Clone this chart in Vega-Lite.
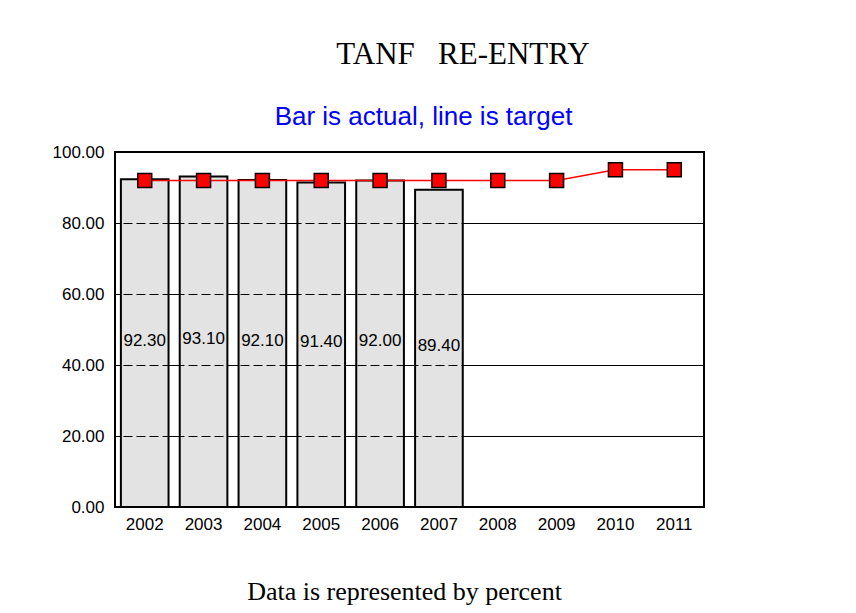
{
  "$schema": "https://vega.github.io/schema/vega-lite/v6.json",
  "width": 589,
  "height": 355,
  "autosize": {"type": "none"},
  "padding": {"left": 115, "top": 152, "right": 152, "bottom": 106},
  "background": "white",
  "config": {
    "view": {"stroke": "#000", "strokeWidth": 2},
    "axis": {"labelFont": "Liberation Sans", "labelFontSize": 17, "labelColor": "#000", "ticks": false, "domain": false}
  },
  "title": {
    "text": "TANF\u00a0\u00a0 RE-ENTRY",
    "font": "Liberation Serif",
    "fontSize": 31,
    "fontWeight": "normal",
    "color": "#000",
    "anchor": "middle",
    "frame": "group",
    "dx": 53.5,
    "baseline": "alphabetic",
    "offset": 8
  },
  "data": {
    "values": [
      {"year": "2002", "actual": 92.3, "target": 92},
      {"year": "2003", "actual": 93.1, "target": 92},
      {"year": "2004", "actual": 92.1, "target": 92},
      {"year": "2005", "actual": 91.4, "target": 92},
      {"year": "2006", "actual": 92.0, "target": 92},
      {"year": "2007", "actual": 89.4, "target": 92},
      {"year": "2008", "actual": null, "target": 92},
      {"year": "2009", "actual": null, "target": 92},
      {"year": "2010", "actual": null, "target": 95},
      {"year": "2011", "actual": null, "target": 95}
    ]
  },
  "resolve": {"scale": {"y": "independent"}, "axis": {"x": "independent", "y": "independent"}},
  "layer": [
    {
      "mark": {"type": "bar", "fill": "#e3e3e3", "stroke": "#000", "strokeWidth": 2},
      "encoding": {
        "x": {
          "field": "year", "type": "ordinal",
          "scale": {"paddingInner": 0.19, "paddingOuter": 0.1},
          "axis": {
            "orient": "bottom", "labelAngle": 0, "labelPadding": 9, "grid": false,
            "title": "Data is represented by percent",
            "titleFont": "Liberation Serif", "titleFontSize": 26, "titleFontWeight": "normal", "titleColor": "#000",
            "titleX": 289, "titleY": 92, "titleBaseline": "alphabetic", "titleAlign": "center"
          }
        },
        "y": {
          "field": "actual", "type": "quantitative",
          "scale": {"domain": [0, 100]},
          "axis": {
            "orient": "left", "values": [0, 20, 40, 60, 80, 100], "format": ".2f",
            "grid": true, "gridColor": "#000", "gridWidth": 1, "gridOpacity": 1,
            "labelPadding": 11, "title": null, "zindex": 0
          }
        }
      }
    },
    {
      "mark": {"type": "text", "font": "Liberation Sans", "fontSize": 17, "color": "#000", "baseline": "middle", "align": "center", "dy": -2.5},
      "encoding": {
        "x": {"field": "year", "type": "ordinal", "axis": null},
        "y": {"field": "actual", "type": "quantitative", "scale": {"domain": [0, 200]}, "axis": null},
        "text": {"field": "actual", "type": "quantitative", "format": ".2f"}
      }
    },
    {
      "mark": {"type": "line", "color": "#ff0000", "strokeWidth": 1.5},
      "encoding": {
        "x": {
          "field": "year", "type": "ordinal",
          "axis": {
            "orient": "top", "labels": false, "grid": false,
            "title": "Bar is actual, line is target",
            "titleFont": "Liberation Sans", "titleFontSize": 26, "titleFontWeight": "normal", "titleColor": "#0000ff",
            "titleX": 308, "titleY": -28, "titleBaseline": "alphabetic", "titleAlign": "center"
          }
        },
        "y": {
          "field": "target", "type": "quantitative",
          "scale": {"domain": [0, 100]},
          "axis": {
            "orient": "right", "values": [20, 40, 60, 80], "labels": false,
            "grid": true, "gridColor": "#000", "gridWidth": 1, "gridDash": [9, 4], "gridOpacity": 1,
            "title": null, "zindex": 1
          }
        }
      }
    },
    {
      "mark": {"type": "point", "shape": "square", "filled": true, "size": 196, "fill": "#ff0000", "stroke": "#000", "strokeWidth": 1.5, "opacity": 1},
      "encoding": {
        "x": {"field": "year", "type": "ordinal", "axis": null},
        "y": {"field": "target", "type": "quantitative", "scale": {"domain": [0, 100]}, "axis": null}
      }
    }
  ]
}
